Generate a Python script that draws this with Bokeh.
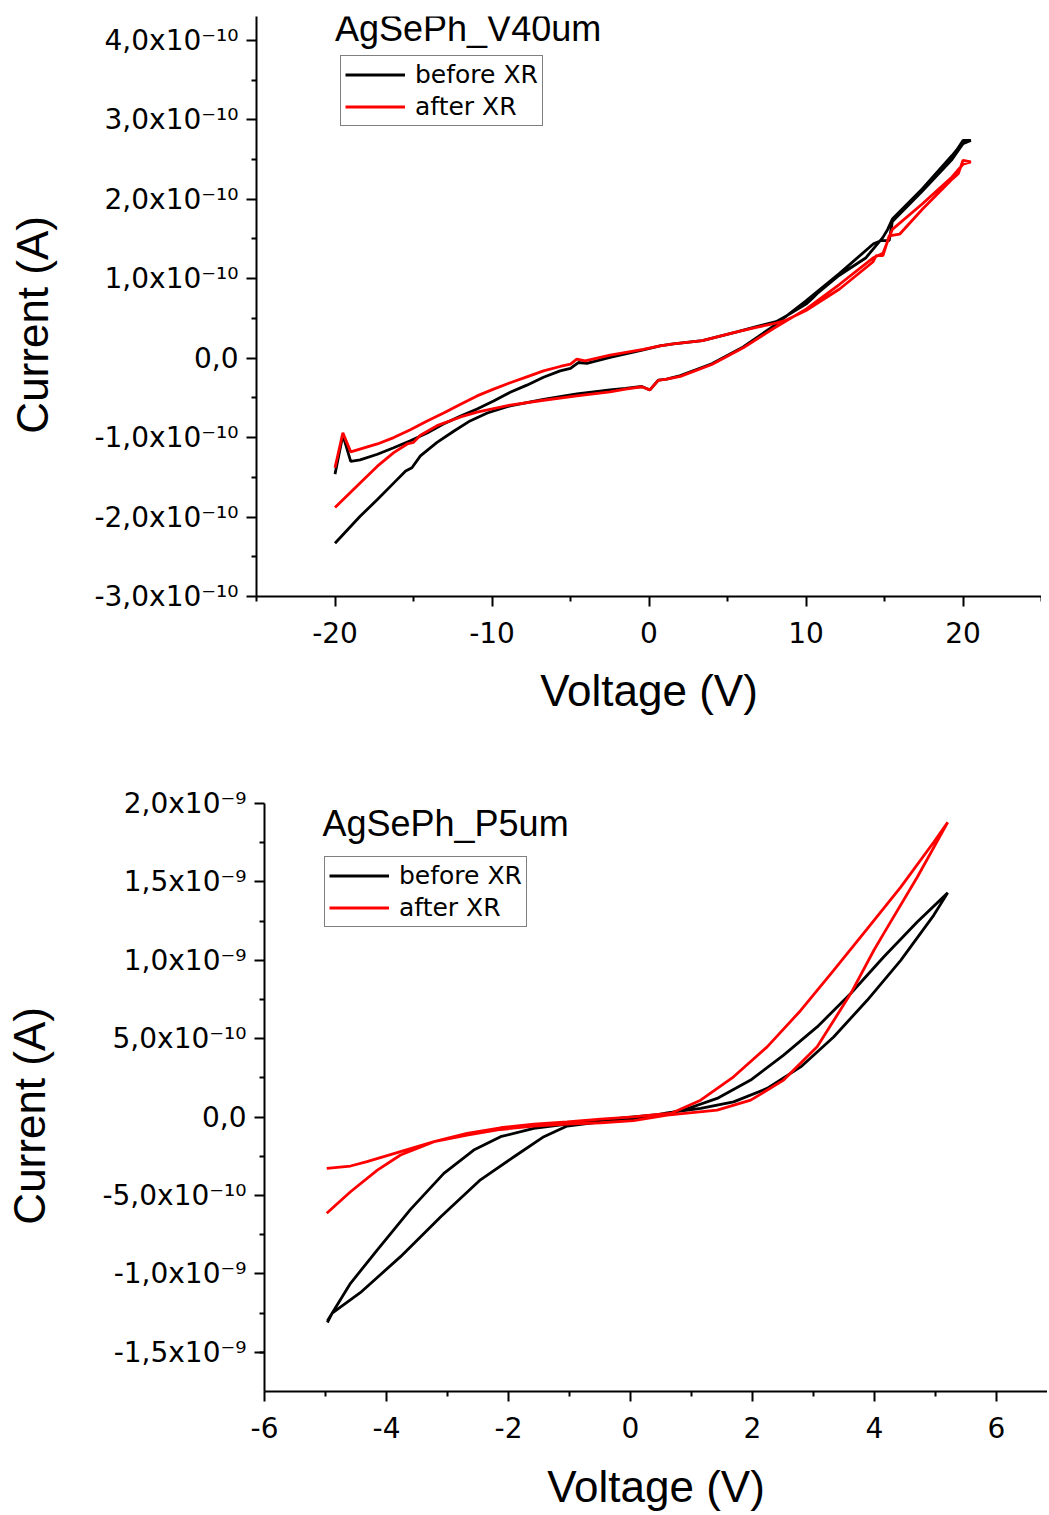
from bokeh.plotting import figure
from bokeh.models import (FixedTicker, CustomJSTickFormatter, Range1d, Legend,
                          LegendItem, Label)
from bokeh.embed import file_html
from bokeh.resources import INLINE

# ---------------- data: top panel (AgSePh_V40um), current in units of 1e-10 A
top_black_v_fwd = [-20.0, -19.5, -19.0, -18.4, -17.3, -16.3, -15.2, -14.1, -13.1, -12.0, -10.95, -9.9,
                   -8.84, -7.78, -6.72, -5.66, -5.0, -4.5, -3.96, -2.48, -0.36, 0.7, 1.55, 3.4, 5.6,
                   6.9, 8.1, 9.0, 10.0, 10.4, 10.7, 12.1, 13.8, 14.9, 15.2, 15.5, 17.4, 19.3, 19.6,
                   20.0, 20.5]
top_black_i_fwd = [-1.46, -0.97, -1.30, -1.28, -1.21, -1.13, -1.04, -0.94, -0.83, -0.73, -0.64, -0.54,
                   -0.43, -0.34, -0.24, -0.16, -0.13, -0.055, -0.067, 0.01, 0.105, 0.155, 0.18, 0.22,
                   0.33, 0.40, 0.46, 0.56, 0.68, 0.75, 0.81, 1.04, 1.26, 1.52, 1.62, 1.75, 2.13, 2.55,
                   2.62, 2.74, 2.74]
top_black_v_rev = [20.5, 20.0, 19.3, 17.4, 15.5, 15.3, 14.8, 14.3, 12.1, 10.0, 7.9, 6.0, 4.0, 2.0,
                   1.12, 0.59, 0.06, -0.46, -1.5, -2.48, -4.6, -6.72, -8.84, -10.3, -11.4, -12.44,
                   -13.5, -14.56, -15.1, -15.5, -16.25, -17.3, -18.4, -20.0]
top_black_i_rev = [2.74, 2.70, 2.50, 2.10, 1.72, 1.48, 1.48, 1.44, 1.06, 0.72, 0.40, 0.14, -0.07,
                   -0.22, -0.265, -0.277, -0.40, -0.357, -0.38, -0.40, -0.45, -0.52, -0.60, -0.69,
                   -0.79, -0.92, -1.06, -1.23, -1.38, -1.42, -1.57, -1.78, -1.99, -2.33]

top_red_v_fwd = [-20.0, -19.5, -19.0, -17.3, -16.26, -15.2, -14.13, -13.08, -12.0, -10.95, -9.9, -8.84,
                 -7.78, -6.72, -5.66, -5.0, -4.6, -4.07, -2.48, -0.36, 0.7, 1.55, 3.4, 5.6, 6.9, 8.1,
                 8.75, 10.0, 12.14, 14.26, 14.47, 14.9, 15.3, 15.96, 17.44, 19.35, 19.7, 20.0, 20.5]
top_red_i_fwd = [-1.38, -0.94, -1.18, -1.08, -1.0, -0.90, -0.79, -0.69, -0.58, -0.475, -0.39, -0.31,
                 -0.235, -0.16, -0.105, -0.076, -0.013, -0.034, 0.038, 0.11, 0.155, 0.18, 0.22, 0.33,
                 0.39, 0.44, 0.48, 0.60, 0.87, 1.21, 1.29, 1.29, 1.54, 1.56, 1.88, 2.26, 2.32, 2.49,
                 2.47]
top_red_v_rev = [20.5, 20.0, 19.3, 17.4, 15.5, 14.9, 14.26, 12.14, 10.03, 7.9, 6.0, 4.0, 2.0, 1.12,
                 0.59, 0.06, -0.46, -1.5, -2.48, -4.6, -6.72, -8.84, -10.95, -12.0, -13.5, -14.56,
                 -15.0, -15.4, -16.26, -17.3, -18.4, -20.0]
top_red_i_rev = [2.47, 2.44, 2.28, 1.94, 1.62, 1.32, 1.26, 0.93, 0.62, 0.37, 0.13, -0.08, -0.23,
                 -0.265, -0.28, -0.40, -0.36, -0.39, -0.425, -0.475, -0.53, -0.59, -0.68, -0.74,
                 -0.85, -0.97, -1.06, -1.08, -1.19, -1.36, -1.57, -1.88]

top_x_ticks = [-20, -10, 0, 10, 20]
top_y_ticks = [-3, -2, -1, 0, 1, 2, 3, 4]          # x 1e-10 A
TOP_SCALE = 1e-10

# ---------------- data: bottom panel (AgSePh_P5um), current in units of 1e-9 A
bot_black_v = [-4.97, -4.59, -4.15, -3.61, -3.06, -2.57, -2.13, -1.585, -1.04, -0.49, 0.05, 0.49,
               0.87, 1.42, 1.97, 2.51, 3.06, 3.61, 4.15, 4.70, 5.2,
               4.97, 4.43, 3.88, 3.33, 2.79, 2.24, 1.69, 1.15, 0.60,
               0.05, -0.49, -1.04, -1.42, -1.91, -2.46, -3.11, -3.77, -4.43, -4.89, -4.97]
bot_black_i = [-1.30, -1.06, -0.847, -0.59, -0.359, -0.21, -0.125, -0.072, -0.045, -0.019, 0.002, 0.017,
               0.045, 0.119, 0.236, 0.395, 0.575, 0.788, 1.021, 1.244, 1.43,
               1.287, 1.0, 0.745, 0.511, 0.32, 0.183, 0.097, 0.055, 0.027,
               -0.015, -0.030, -0.057, -0.125, -0.253, -0.40, -0.635, -0.89, -1.12, -1.25, -1.31]

bot_red_v = [-4.98, -4.59, -4.32, -3.77, -3.22, -2.68, -2.13, -1.585, -1.04, -0.49, 0.05, 0.49,
             0.66, 1.15, 1.69, 2.24, 2.79, 3.33, 3.88, 4.43, 4.97, 5.2,
             4.70, 4.15, 3.99, 3.61, 3.06, 2.51, 1.97, 1.42, 0.60,
             0.05, -0.49, -1.04, -1.585, -2.13, -2.68, -3.22, -3.77, -4.15, -4.59, -4.98]
bot_red_i = [-0.327, -0.312, -0.284, -0.22, -0.157, -0.104, -0.068, -0.045, -0.030, -0.013, 0.002, 0.019,
             0.023, 0.108, 0.257, 0.448, 0.68, 0.936, 1.20, 1.467, 1.753, 1.88,
             1.53, 1.17, 1.064, 0.788, 0.448, 0.236, 0.108, 0.045, 0.013,
             -0.023, -0.036, -0.045, -0.057, -0.079, -0.115, -0.157, -0.242, -0.338, -0.476, -0.613]

bot_x_ticks = [-6, -4, -2, 0, 2, 4, 6]
bot_y_ticks = [-1.5, -1.0, -0.5, 0.0, 0.5, 1.0, 1.5, 2.0]   # x 1e-9 A
BOT_SCALE = 1e-9

series_labels = ["before XR", "after XR"]
series_colors = ["#000000", "#ff0000"]

TICK_FONT = "DejaVu Sans"
LABEL_FONT = "Liberation Sans"
NBSP = "\u00a0"

sci_formatter = CustomJSTickFormatter(code="""
const sup = {"-":"\u207b","0":"\u2070","1":"\u00b9","2":"\u00b2","3":"\u00b3","4":"\u2074",
             "5":"\u2075","6":"\u2076","7":"\u2077","8":"\u2078","9":"\u2079"};
if (Math.abs(tick) < 1e-20) { return "0,0"; }
const e = Math.floor(Math.log10(Math.abs(tick)) + 1e-9);
const m = tick / Math.pow(10, e);
const es = String(e).split("").map(c => sup[c]).join("");
return m.toFixed(1).replace(".", ",") + "x10" + es;
""")
int_formatter = CustomJSTickFormatter(code="return tick.toFixed(0);")


def style_axes(p, x_label_standoff, y_label_standoff):
    p.xgrid.visible = False
    p.ygrid.visible = False
    p.outline_line_color = None
    for ax in (p.xaxis[0], p.yaxis[0]):
        ax.axis_line_width = 2
        ax.major_tick_line_width = 2
        ax.minor_tick_line_width = 2
        ax.major_tick_out = 10
        ax.major_tick_in = 0
        ax.minor_tick_out = 5
        ax.minor_tick_in = 0
        ax.major_label_text_font = TICK_FONT
        ax.major_label_text_font_size = "28px"
        ax.major_label_text_color = "black"
        ax.axis_label_text_font = LABEL_FONT
        ax.axis_label_text_font_size = "44px"
        ax.axis_label_text_font_style = "normal"
        ax.axis_label_text_color = "black"
    p.xaxis[0].major_label_standoff = 15
    p.xaxis[0].axis_label_standoff = x_label_standoff
    p.yaxis[0].major_label_standoff = 8
    p.yaxis[0].axis_label_standoff = y_label_standoff
    p.xaxis[0].axis_label = "Voltage (V)"
    # trailing no-break spaces nudge the rotated label slightly downwards, as in the original
    p.yaxis[0].axis_label = "Current (A)" + NBSP * 3
    p.yaxis[0].formatter = sci_formatter
    p.xaxis[0].formatter = int_formatter


def add_legend(p, renderers, loc):
    leg = Legend(items=[LegendItem(label=lab, renderers=[r]) for lab, r in zip(series_labels, renderers)],
                 location=loc, label_text_font=TICK_FONT, label_text_font_size="25px",
                 label_text_color="black", glyph_width=60, glyph_height=29, label_height=29,
                 label_standoff=10, padding=4, spacing=3, margin=0,
                 border_line_color="black", border_line_width=1, background_fill_color="white")
    p.add_layout(leg)


# ---------------- top figure
p1 = figure(width=1041, height=719, output_backend="svg", toolbar_location=None,
            x_range=Range1d(-25, 25), y_range=Range1d(-3.0 * TOP_SCALE, 4.3 * TOP_SCALE),
            min_border_left=256, min_border_right=0, min_border_top=16, min_border_bottom=123)
style_axes(p1, 20, 34)
p1.xaxis[0].ticker = FixedTicker(ticks=top_x_ticks, minor_ticks=[-25, -15, -5, 5, 15, 25])
p1.yaxis[0].ticker = FixedTicker(ticks=[t * TOP_SCALE for t in top_y_ticks],
                                 minor_ticks=[(t + 0.5) * TOP_SCALE for t in top_y_ticks[:-1]])
r1b = p1.line(top_black_v_fwd + top_black_v_rev,
              [i * TOP_SCALE for i in top_black_i_fwd + top_black_i_rev],
              line_color=series_colors[0], line_width=2.8)
r1r = p1.line(top_red_v_fwd + top_red_v_rev,
              [i * TOP_SCALE for i in top_red_i_fwd + top_red_i_rev],
              line_color=series_colors[1], line_width=2.8)
add_legend(p1, [r1b, r1r], (84, 470))
p1.add_layout(Label(x=-20, y=4.155 * TOP_SCALE, text="AgSePh_V40um", text_font=LABEL_FONT,
                    text_font_size="36px", text_baseline="alphabetic", text_align="left",
                    text_color="black"))

# ---------------- bottom figure
p2 = figure(width=1047, height=795, output_backend="svg", toolbar_location=None,
            x_range=Range1d(-6, 6.836), y_range=Range1d(-1.75 * BOT_SCALE, 2.0 * BOT_SCALE),
            min_border_left=264, min_border_right=0, min_border_top=84, min_border_bottom=123)
style_axes(p2, 21, 45)
p2.xaxis[0].ticker = FixedTicker(ticks=bot_x_ticks, minor_ticks=[-5, -3, -1, 1, 3, 5])
p2.yaxis[0].ticker = FixedTicker(ticks=[t * BOT_SCALE for t in bot_y_ticks],
                                 minor_ticks=[(t + 0.25) * BOT_SCALE for t in [-1.75] + bot_y_ticks[:-1]])
r2b = p2.line(bot_black_v, [i * BOT_SCALE for i in bot_black_i],
              line_color=series_colors[0], line_width=2.8)
r2r = p2.line(bot_red_v, [i * BOT_SCALE for i in bot_red_i],
              line_color=series_colors[1], line_width=2.8)
add_legend(p2, [r2b, r2r], (60, 464))
p2.add_layout(Label(x=-5.05, y=1.87 * BOT_SCALE, text="AgSePh_P5um", text_font=LABEL_FONT,
                    text_font_size="36px", text_baseline="alphabetic", text_align="left",
                    text_color="black"))

open("out.html", "w").write(file_html([p1, p2], INLINE))
